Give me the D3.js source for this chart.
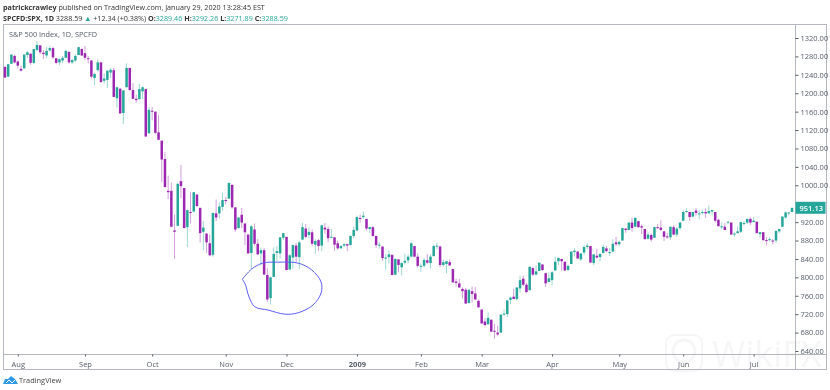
<!DOCTYPE html>
<html>
<head>
<meta charset="utf-8">
<script src="https://cdn.jsdelivr.net/npm/d3@7"></script>
<style>
  html, body { margin: 0; padding: 0; background: #fff; }
  svg { display: block; filter: blur(0.35px); }
  text { font-family: "Open Sans", sans-serif; }
</style>
</head>
<body>
<div id="chart"></div>
<script>
// daily bars, Jul 28 2008 to Jul 20 2009
const opens = [1257,1236,1264,1281,1269,1253,1254,1283,1286,1266,1294,1304,1288,1282,1293,1298,1276,1267,1271,1277,1290,1267,1271,1283,1296,
  1287,1276,1271,1233,1250,1267,1227,1229,1245,1250,1189,1210,1157,1213,1255,1207,1188,1187,1204,1209,1113,
  1162,1160,1115,1097,1057,988,988,902,912,1009,994,909,942,943,980,951,899,895,874,849,939,939,953,
  968,971,1001,952,907,936,917,893,853,904,873,852,859,805,755,801,853,852,886,
  888,817,843,869,844,882,906,892,898,871,881,869,908,905,886,887,874,863,869,872,870,890,
  902,929,931,927,905,909,890,869,867,841,844,849,806,839,822,832,837,845,868,845,
  823,825,837,831,846,868,867,827,829,833,818,791,787,775,773,744,770,765,749,
  730,704,698,708,684,680,680,719,720,751,758,753,776,797,784,772,820,806,814,828,809,790,
  794,815,835,840,834,816,829,855,856,839,854,866,868,831,847,844,853,863,854,856,876,
  872,880,906,903,919,910,922,911,905,884,892,886,909,908,900,889,887,909,893,907,
  923,942,942,932,945,938,940,942,939,943,942,925,911,910,919,919,893,896,899,918,919,927,
  920,921,894,898,881,881,880,880,900,910,930,940,942]
const highs = [1260,1263,1284,1284,1271,1260,1284,1292,1286,1297,1313,1304,1294,1301,1303,1301,1276,1276,1281,1294,1290,1275,1285,1301,1297,
  1303,1281,1272,1244,1274,1268,1243,1249,1255,1255,1214,1210,1207,1265,1255,1222,1197,1220,1215,1209,1170,
  1170,1160,1153,1097,1072,1021,1006,936,1006,1044,994,947,985,985,980,951,922,896,893,940,969,963,984,
  975,1007,1001,952,931,951,917,893,913,917,883,865,864,820,801,865,868,887,896,
  888,850,871,875,879,918,916,908,904,883,884,914,918,911,905,887,880,870,874,873,891,910,
  934,936,943,927,910,911,890,877,867,851,858,849,841,839,833,852,850,877,868,852,
  830,842,851,850,871,875,869,839,836,839,818,797,797,778,777,775,780,779,752,
  730,711,724,708,699,695,719,731,750,758,775,778,804,804,788,823,823,826,832,828,809,810,
  813,845,843,840,834,828,856,864,856,853,870,875,868,850,862,852,871,868,864,883,888,
  880,907,907,920,930,931,922,915,905,898,896,910,916,924,900,896,911,913,909,920,
  947,950,942,942,951,946,946,950,956,947,942,928,919,918,921,919,898,910,921,922,927,931,
  931,921,898,898,887,887,883,901,905,933,943,941,951]
const lows = [1234,1236,1264,1265,1254,1247,1254,1276,1262,1263,1291,1285,1274,1276,1291,1274,1263,1261,1265,1277,1264,1263,1268,1283,1281,
  1272,1265,1232,1217,1247,1224,1221,1211,1233,1192,1169,1156,1133,1213,1205,1187,1179,1187,1187,1106,1113,
  1141,1111,1098,1007,996,970,909,840,912,972,907,866,917,943,953,876,859,853,846,845,922,928,945,
  958,971,949,899,906,907,870,852,818,869,848,826,806,747,741,801,835,841,881,
  816,817,818,833,818,882,885,885,868,851,857,857,895,876,886,858,860,863,866,857,870,884,
  900,919,927,902,896,888,864,862,836,817,830,805,804,811,804,828,830,845,844,821,
  812,821,829,819,846,861,822,823,809,825,789,780,777,754,743,744,745,751,734,
  699,696,698,682,667,672,680,717,714,742,753,749,767,781,766,772,803,804,814,814,779,790,
  783,815,827,815,814,814,829,845,840,836,848,861,832,827,841,835,853,854,847,856,868,
  867,880,897,903,899,910,908,894,882,882,878,886,905,901,879,884,881,891,888,903,
  923,941,923,931,934,926,936,929,939,935,919,911,905,903,915,893,888,896,896,913,916,914,
  920,896,886,879,869,878,872,875,896,910,927,934,942]
const closes = [1234,1263,1284,1267,1260,1249,1284,1289,1266,1296,1305,1289,1285,1292,1298,1278,1266,1274,1277,1292,1267,1272,1281,1300,1282,
  1277,1275,1236,1242,1267,1224,1232,1249,1251,1192,1213,1156,1206,1255,1207,1188,1185,1209,1213,1106,1164,
  1161,1114,1099,1056,996,985,910,899,1003,998,907,946,940,985,955,896,908,876,848,940,930,954,968,
  966,1005,952,904,930,919,898,852,911,873,850,859,806,752,800,851,857,887,896,
  816,848,870,845,876,909,888,899,873,879,868,913,904,885,888,871,863,868,872,869,890,903,
  931,927,934,906,909,890,870,871,842,843,850,805,840,827,831,836,845,874,845,825,
  825,838,832,845,868,869,827,833,835,826,789,788,778,770,743,773,764,752,735,
  700,696,712,682,683,676,719,721,750,756,753,778,794,784,768,823,806,813,832,816,787,798,
  811,834,842,835,815,825,856,858,841,852,866,869,832,850,843,851,866,857,855,873,872,
  877,907,903,919,907,929,909,908,883,893,882,909,908,903,888,887,910,893,906,919,
  942,944,931,942,940,939,942,939,944,946,923,911,911,903,921,893,895,900,920,918,927,919,
  923,896,898,881,879,883,879,901,905,932,941,941,951]

const lastPrice = 951.13
const priceTicks = [1320,1280,1240,1200,1160,1120,1080,1040,1000,920,880,840,800,760,720,680,640]
const monthBars = [4,25,46,69,88,110,130,149,171,192,212,234]
const monthLabels = ['Aug','Sep','Oct','Nov','Dec','2009','Feb','Mar','Apr','May','Jun','Jul']

// hand drawn ring, as [bar, price]
const ring = [[74.2,796],[77.1,818],[80.6,831],[85.3,833],[91.6,831],[95.9,816],[98.8,790],[98.8,766],[96.3,740],[91.6,723],[87.5,720],[82.2,729],[78.1,736],[76.3,757],[75.2,783],[74.2,796]]

const upColor = '#26a69a'
const downColor = '#9c27b0'
const textColor = '#555b66'
const lineColor = '#b4b7bd'

const width = 830, height = 390
const box = { left: 3.5, right: 826.5, top: 24.5, bottom: 369.5, axisX: 795.5, axisY: 354.5 }

const svg = d3.select('#chart').append('svg')
    .attr('width', width)
    .attr('height', height)

const x = d3.scaleLinear().domain([0, opens.length - 1]).range([5, 792])
const y = d3.scaleLinear().domain([640, 1320]).range([351, 38])

// watermark sits under everything
const wm = svg.append('g').attr('opacity', 0.08)
wm.append('rect')
    .attr('x', 666).attr('y', 335).attr('width', 36).attr('height', 36).attr('rx', 8)
    .attr('fill', 'none').attr('stroke', '#888').attr('stroke-width', 2)
wm.append('circle')
    .attr('cx', 684).attr('cy', 351).attr('r', 11)
    .attr('fill', 'none').attr('stroke', '#888').attr('stroke-width', 3)
wm.append('text')
    .attr('x', 712).attr('y', 367)
    .attr('font-size', 36).attr('fill', '#888')
    .text('WikiFX')

// frame
svg.append('rect')
    .attr('x', box.left).attr('y', box.top)
    .attr('width', box.right - box.left).attr('height', box.bottom - box.top)
    .attr('fill', 'none').attr('stroke', lineColor)

const bars = svg.append('g').selectAll('g')
    .data(opens.map((o, i) => ({ i, o, h: highs[i], l: lows[i], c: closes[i] })))
    .join('g')

bars.append('line')
    .attr('x1', d => x(d.i)).attr('x2', d => x(d.i))
    .attr('y1', d => y(d.h)).attr('y2', d => y(d.l))
    .attr('stroke', d => d.c >= d.o ? upColor : downColor)
    .attr('stroke-opacity', 0.45)

bars.append('rect')
    .attr('x', d => x(d.i) - 1.25)
    .attr('width', 2.5)
    .attr('y', d => y(Math.max(d.o, d.c)))
    .attr('height', d => Math.max(1, Math.abs(y(d.o) - y(d.c))))
    .attr('fill', d => d.c >= d.o ? upColor : downColor)

// ring
svg.append('path')
    .datum(ring)
    .attr('d', d3.line().x(d => x(d[0])).y(d => y(d[1])).curve(d3.curveCatmullRom))
    .attr('fill', 'none')
    .attr('stroke', '#5c5cf5')
    .attr('stroke-width', 1)

// price axis
const yAxis = svg.append('g')
    .attr('transform', `translate(${box.axisX},0)`)
    .call(d3.axisRight(y).tickValues(priceTicks).tickFormat(d3.format('.2f')).tickSize(3).tickPadding(2))
yAxis.select('.domain').attr('stroke', lineColor).attr('d', `M0,${box.top}V${box.bottom}`)
yAxis.selectAll('.tick line').attr('stroke', textColor)
yAxis.selectAll('text').attr('font-size', 7.5).attr('fill', textColor).style('font-family', '"Open Sans", sans-serif')

// time axis
const xAxis = svg.append('g')
    .attr('transform', `translate(0,${box.axisY})`)
    .call(d3.axisBottom(x).tickValues(monthBars).tickFormat((d, i) => monthLabels[i]).tickSize(2).tickPadding(5))
xAxis.select('.domain').attr('stroke', lineColor).attr('d', `M${box.left},0H${box.right}`)
xAxis.selectAll('.tick line').attr('stroke', textColor)
xAxis.selectAll('text')
    .attr('font-size', 7.5)
    .attr('fill', textColor)
    .attr('font-weight', (d, i) => monthLabels[i] === '2009' ? 700 : 400)
    .style('font-family', '"Open Sans", sans-serif')

// last price tag
svg.append('rect')
    .attr('x', box.axisX).attr('y', y(lastPrice) - 6)
    .attr('width', 30).attr('height', 12)
    .attr('fill', upColor)
svg.append('text')
    .attr('x', box.axisX + 4).attr('y', y(lastPrice) + 2.8)
    .attr('font-size', 7.5).attr('font-weight', 600).attr('fill', '#fff')
    .text(lastPrice.toFixed(2))

// header lines
const head1 = svg.append('text').attr('x', 3).attr('y', 10).attr('font-size', 7.2).attr('fill', '#333')
head1.append('tspan').attr('font-weight', 700).text('patrickcrawley')
head1.append('tspan').text(' published on TradingView.com, January 29, 2020 13:28:45 EST')

const head2 = svg.append('text').attr('x', 3).attr('y', 21).attr('font-size', 7.2).attr('fill', '#333')
head2.append('tspan').attr('font-weight', 700).text('SPCFD:SPX, 1D')
head2.append('tspan').text(' 3288.59 ')
head2.append('tspan').attr('fill', upColor).text('▲')
head2.append('tspan').text(' +12.34 (+0.38%) ')
const ohlc = [['O:', '3289.46'], ['H:', '3292.26'], ['L:', '3271.89'], ['C:', '3288.59']]
ohlc.forEach(([k, v]) => {
    head2.append('tspan').attr('font-weight', 700).text(k)
    head2.append('tspan').attr('fill', upColor).text(v + ' ')
})

svg.append('text')
    .attr('x', 9).attr('y', 37)
    .attr('font-size', 7.3).attr('fill', textColor)
    .text('S&P 500 Index, 1D, SPCFD')

// TradingView logo
const logoPts = [[3,384],[5,379],[8,379],[11,376],[15,379],[18,384]]
svg.append('path')
    .attr('d', d3.line().curve(d3.curveLinearClosed)(logoPts))
    .attr('fill', '#2f9be8')
svg.append('path')
    .attr('d', d3.line()([[6,383],[9,380],[12,383],[15,380]]))
    .attr('fill', 'none').attr('stroke', '#fff')
svg.append('text')
    .attr('x', 19).attr('y', 383)
    .attr('font-size', 7.4).attr('fill', '#444')
    .text('TradingView')
</script>
</body>
</html>
